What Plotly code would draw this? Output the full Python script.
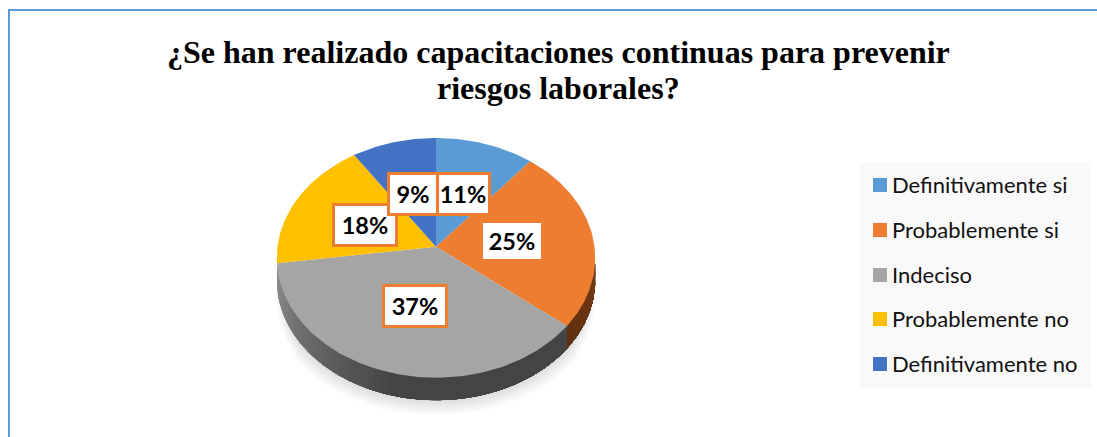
import math
import plotly.graph_objects as go

# ---- data ----
title_lines = ["¿Se han realizado capacitaciones continuas para prevenir", "riesgos laborales?"]
categories = ["Definitivamente si", "Probablemente si", "Indeciso", "Probablemente no", "Definitivamente no"]
values = [11, 24.8, 37, 17.8, 9.4]
labels = ["11%", "25%", "37%", "18%", "9%"]
colors = ["#5B9BD5", "#ED7D31", "#A5A5A5", "#FFC000", "#4472C4"]

# ---- layout constants (pixel space of the page) ----
W, H = 1097, 437
CX, CY, RX, RY, K, DEPTH = 436.0, 246.7, 158.5, 118.8, 0.093, 22.5
label_boxes = [(463, 194, 50, 38), (512, 241, 58, 36), (415, 306, 60, 38), (365, 225, 60, 38), (413, 194, 46, 38)]
legend_ys = [185, 230, 275, 319, 364]
title_ys = [52, 88]


def rim(theta, scale=1.0):
    u, v = math.sin(theta), -math.cos(theta)
    f = 1.0 / (1.0 - K * v)
    return CX + scale * RX * u * f, CY + scale * RY * v * f


def arc(a0, a1, scale=1.0, step=1.0):
    n = max(2, int(abs(a1 - a0) / math.radians(step)))
    return [rim(a0 + (a1 - a0) * i / n, scale) for i in range(n + 1)]


def poly(points, color, name=None):
    xs, ys = zip(*points)
    return go.Scatter(x=list(xs), y=list(ys), mode="lines", fill="toself", fillcolor=color,
                      line=dict(width=0), hoverinfo="skip", showlegend=False, name=name)


def mix(c0, c1, t):
    return "rgb(%d,%d,%d)" % tuple(round(a + (b - a) * t) for a, b in zip(c0, c1))


fig = go.Figure()
total = sum(values)
cuts = [0.0]
for v in values:
    cuts.append(cuts[-1] + v / total * 2 * math.pi)

# soft reflection behind the pie
for j in range(8):
    p = (j + 1) / 8
    s = 1 + 0.065 * p
    a_left, a_right = math.radians(264 - 32 * p), math.radians(96 + 32 * p)
    pts = [(x, y + DEPTH + 7 * p) for x, y in arc(a_left, a_right, s)]
    pts += [rim(a_right, 1.0), rim(a_left, 1.0)]
    fig.add_trace(poly(pts, "rgba(0,0,0,0.016)"))

# side wall, painted from the left so every band overlaps the next one
g_light, g_dark = (140, 140, 140), (68, 68, 68)
n_bands = 50
a_end = math.radians(98)
for i in range(n_bands):
    a0 = cuts[3] - (cuts[3] - cuts[2]) * i / n_bands
    t = min(1.0, i / (n_bands * 0.5))
    seg = arc(a0, a_end, step=0.5)
    fig.add_trace(poly(seg + [(x, y + DEPTH) for x, y in reversed(seg)], mix(g_light, g_dark, t)))
for i in range(8):
    a0 = cuts[2] - (cuts[2] - a_end) * i / 8
    seg = arc(a0, a_end, step=0.5)
    fig.add_trace(poly(seg + [(x, y + DEPTH) for x, y in reversed(seg)], mix((96, 48, 16), (120, 60, 20), i / 8)))

# top face
for i, c in enumerate(categories):
    pts = [(CX, CY)] + arc(cuts[i], cuts[i + 1]) + [(CX, CY)]
    fig.add_trace(poly(pts, colors[i], name=c))

# legend panel, swatches and names
fig.add_shape(type="rect", xref="x", yref="y", x0=860, x1=1091, y0=162, y1=388,
              fillcolor="#F9F9F9", line=dict(width=0), layer="below")
fig.add_trace(go.Scatter(x=[880] * len(categories), y=legend_ys, mode="markers",
                         marker=dict(symbol="square", size=14, color=colors, line=dict(width=0)),
                         hoverinfo="skip", showlegend=False))
for name, y in zip(categories, legend_ys):
    fig.add_annotation(x=890, y=y - 1, xref="x", yref="y", text=name, showarrow=False, xanchor="left", yanchor="middle",
                       font=dict(family="Lato", size=22, color="#111111"))

# value labels
for i in range(len(labels)):
    x, y, w, h = label_boxes[i]
    fig.add_annotation(x=x, y=y, xref="x", yref="y", text="<b>%s</b>" % labels[i], showarrow=False,
                       xanchor="center", yanchor="middle", width=w, height=h, align="center", valign="middle",
                       bgcolor="#FFFFFF", bordercolor="#ED7D31", borderwidth=3, borderpad=0,
                       font=dict(family="Lato", size=23.5, color="#000000"))

# title lines
for line, y in zip(title_lines, title_ys):
    fig.add_annotation(x=558, y=y, xref="x", yref="y", text="<b>%s</b>" % line, showarrow=False,
                       xanchor="center", yanchor="middle",
                       font=dict(family="Liberation Serif", size=32, color="#000000"))

# chart frame
fig.add_shape(type="rect", xref="x", yref="y", x0=9, x1=1110, y0=10, y1=450,
              line=dict(color="#5B9BD5", width=2), fillcolor="rgba(0,0,0,0)", layer="above")

fig.update_layout(
    width=W, height=H, margin=dict(l=0, r=0, t=0, b=0), paper_bgcolor="#FFFFFF", plot_bgcolor="#FFFFFF",
    showlegend=False,
    xaxis=dict(range=[0, W], visible=False, fixedrange=True),
    yaxis=dict(range=[H, 0], visible=False, fixedrange=True),
)

fig.write_html("out.html", config=dict(displayModeBar=False),
               post_script="document.body.style.margin='0';document.body.style.overflow='hidden';")
